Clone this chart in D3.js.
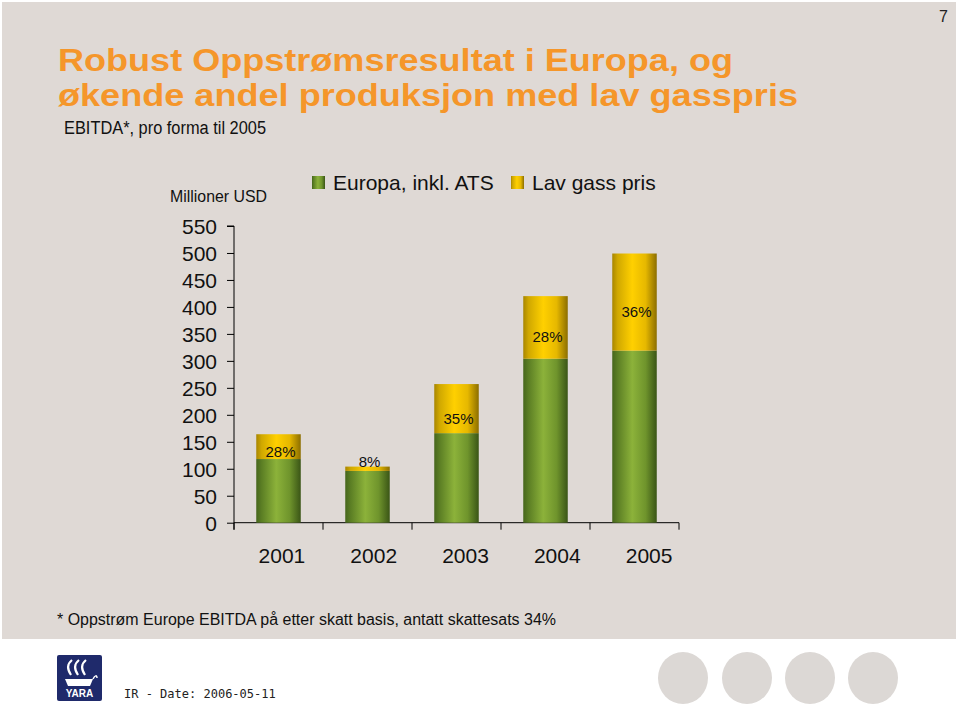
<!DOCTYPE html>
<html><head><meta charset="utf-8">
<script src="https://cdn.jsdelivr.net/npm/d3@7"></script>
<style>body{margin:0;background:#fff}svg{display:block}</style>
</head><body>
<svg id="c" width="960" height="717"></svg>
<script>
const years = ["2001","2002","2003","2004","2005"];
const europa = [118, 96, 166, 304, 319];
const lavGass = [46, 8, 91, 116, 180];
const shareLabels = ["28%","8%","35%","28%","36%"];
const yTicks = [0,50,100,150,200,250,300,350,400,450,500,550];
const seriesNames = ["Europa, inkl. ATS","Lav gass pris"];

const svg = d3.select("#c");
const F = "'Liberation Sans', Arial, sans-serif";

// gradients
const defs = svg.append("defs");
function grad(id, stops){
  const g = defs.append("linearGradient").attr("id",id).attr("x1","0").attr("x2","1").attr("y1","0").attr("y2","0");
  stops.forEach(s=>g.append("stop").attr("offset",s[0]).attr("stop-color",s[1]));
}
grad("gGreen",[[0,"#46661c"],[0.12,"#5b7e24"],[0.45,"#8cb23a"],[0.75,"#6f942c"],[1,"#3a5516"]]);
grad("gGold",[[0,"#a88600"],[0.12,"#d0a800"],[0.45,"#ffd000"],[0.75,"#e6b800"],[1,"#8c6e00"]]);

// background panel
svg.append("rect").attr("x",2).attr("y",2).attr("width",954).attr("height",637).attr("fill","#dfd9d5");

svg.append("text").attr("x",948).attr("y",22).attr("text-anchor","end").attr("font-family",F).attr("font-size",16).attr("fill","#222").text("7");

svg.append("text").attr("x",58).attr("y",71).attr("font-family",F).attr("font-weight","bold").attr("font-size",31).attr("fill","#f5962a")
  .attr("textLength",675).attr("lengthAdjust","spacingAndGlyphs").text("Robust Oppstrømsresultat i Europa, og");
svg.append("text").attr("x",58).attr("y",106).attr("font-family",F).attr("font-weight","bold").attr("font-size",31).attr("fill","#f5962a")
  .attr("textLength",740).attr("lengthAdjust","spacingAndGlyphs").text("økende andel produksjon med lav gasspris");
svg.append("text").attr("x",64).attr("y",134).attr("font-family",F).attr("font-size",18).attr("fill","#111")
  .attr("textLength",202).attr("lengthAdjust","spacingAndGlyphs").text("EBITDA*, pro forma til 2005");

svg.append("text").attr("x",170).attr("y",202).attr("font-family",F).attr("font-size",17).attr("fill","#111")
  .attr("textLength",97).attr("lengthAdjust","spacingAndGlyphs").text("Millioner USD");

// scales
const y = d3.scaleLinear().domain([0,550]).range([522.7,226]);
const x = d3.scaleBand().domain(years).range([234,679]).paddingInner(0.5).paddingOuter(0.25);
// category labels are spread slightly wider than the bars in the original
const xLab = d3.scaleBand().domain(years).range([236,695]);

// y axis
const ya = svg.append("g").attr("transform","translate(234,0)")
  .call(d3.axisLeft(y).tickValues(yTicks).tickSize(7).tickPadding(10).tickFormat(d3.format("d")));
ya.select(".domain").attr("d","M-7,"+y(550)+"H0V"+(y(0)+7)).attr("stroke","#000");
ya.selectAll(".tick line").attr("stroke","#000");
ya.selectAll("text").attr("font-family",F).attr("font-size",21).attr("fill","#111").attr("dy","0.35em");

// x axis
const [r0,r1] = x.range();
const step = x.step();
const bounds = d3.range(years.length+1).map(i=>r0+i*step);
const xa = svg.append("g");
xa.append("line").attr("x1",r0).attr("x2",r1).attr("y1",y(0)).attr("y2",y(0)).attr("stroke","#000");
xa.selectAll("line.tk").data(bounds).join("line").attr("class","tk")
  .attr("x1",d=>d).attr("x2",d=>d).attr("y1",y(0)).attr("y2",y(0)+7).attr("stroke","#000");
const xl = svg.append("g").attr("transform","translate(0,"+y(0)+")")
  .call(d3.axisBottom(xLab).tickSize(0).tickPadding(25));
xl.select(".domain").remove();
xl.selectAll("text").attr("font-family",F).attr("font-size",21).attr("fill","#111");

// bars
const data = years.map((yr,i)=>({yr, e:europa[i], g:lavGass[i], lab:shareLabels[i]}));
const bars = svg.append("g");
bars.selectAll("rect.e").data(data).join("rect").attr("class","e")
  .attr("x",d=>x(d.yr)).attr("width",x.bandwidth())
  .attr("y",d=>y(d.e)).attr("height",d=>y(0)-y(d.e)).attr("fill","url(#gGreen)");
bars.selectAll("rect.g").data(data).join("rect").attr("class","g")
  .attr("x",d=>x(d.yr)).attr("width",x.bandwidth())
  .attr("y",d=>y(d.e+d.g)).attr("height",d=>y(d.e)-y(d.e+d.g)).attr("fill","url(#gGold)");
bars.selectAll("text").data(data).join("text")
  .attr("x",d=>x(d.yr)+x.bandwidth()/2+2)
  .attr("y",d=>{
    const h = y(d.e)-y(d.e+d.g);
    if (h < 15) return y(d.e)-4;
    return (y(d.e)+y(d.e+d.g))/2 + (h < 30 ? 10 : 15);
  })
  .attr("text-anchor","middle").attr("font-family",F).attr("font-size",15).attr("fill","#111").text(d=>d.lab);

// legend
const leg = svg.append("g");
const legX = [312, 511];
const legFill = ["url(#gGreen)","url(#gGold)"];
seriesNames.forEach((n,i)=>{
  leg.append("rect").attr("x",legX[i]).attr("y",176).attr("width",13).attr("height",13).attr("fill",legFill[i]);
  leg.append("text").attr("x",legX[i]+21).attr("y",190).attr("font-family",F).attr("font-size",21).attr("fill","#111").text(n);
});

svg.append("text").attr("x",57).attr("y",625).attr("font-family",F).attr("font-size",16).attr("fill","#111")
  .attr("textLength",499).attr("lengthAdjust","spacingAndGlyphs").text("* Oppstrøm Europe EBITDA på etter skatt basis, antatt skattesats 34%");

// footer logo
const lg = svg.append("g").attr("transform","translate(57,655)");
lg.append("rect").attr("width",45).attr("height",46).attr("rx",2).attr("fill","#1f2a6b");
[0,1,2].forEach(i=>{
  lg.append("path").attr("d",`M${14+i*7},20 C${10+i*7},14 ${10+i*7},9 ${15+i*7},5`).attr("fill","none").attr("stroke","#fff").attr("stroke-width",2.2);
});
lg.append("path").attr("d","M8,24 H36 L33,31 H11 Z").attr("fill","#fff");
lg.append("path").attr("d","M36,24 C38,20 40,20 40,23").attr("fill","none").attr("stroke","#fff").attr("stroke-width",1.5);
lg.append("text").attr("x",22.5).attr("y",42).attr("text-anchor","middle").attr("font-family",F).attr("font-weight","bold").attr("font-size",10).attr("fill","#fff").text("YARA");

svg.append("text").attr("x",124).attr("y",698).attr("font-family","'DejaVu Sans Mono', monospace").attr("font-size",12).attr("fill","#222").text("IR - Date: 2006-05-11");

[683,747,810,873].forEach(cx=>{
  svg.append("ellipse").attr("cx",cx).attr("cy",678).attr("rx",25).attr("ry",26).attr("fill","#dcd8d5");
});
</script>
</body></html>
